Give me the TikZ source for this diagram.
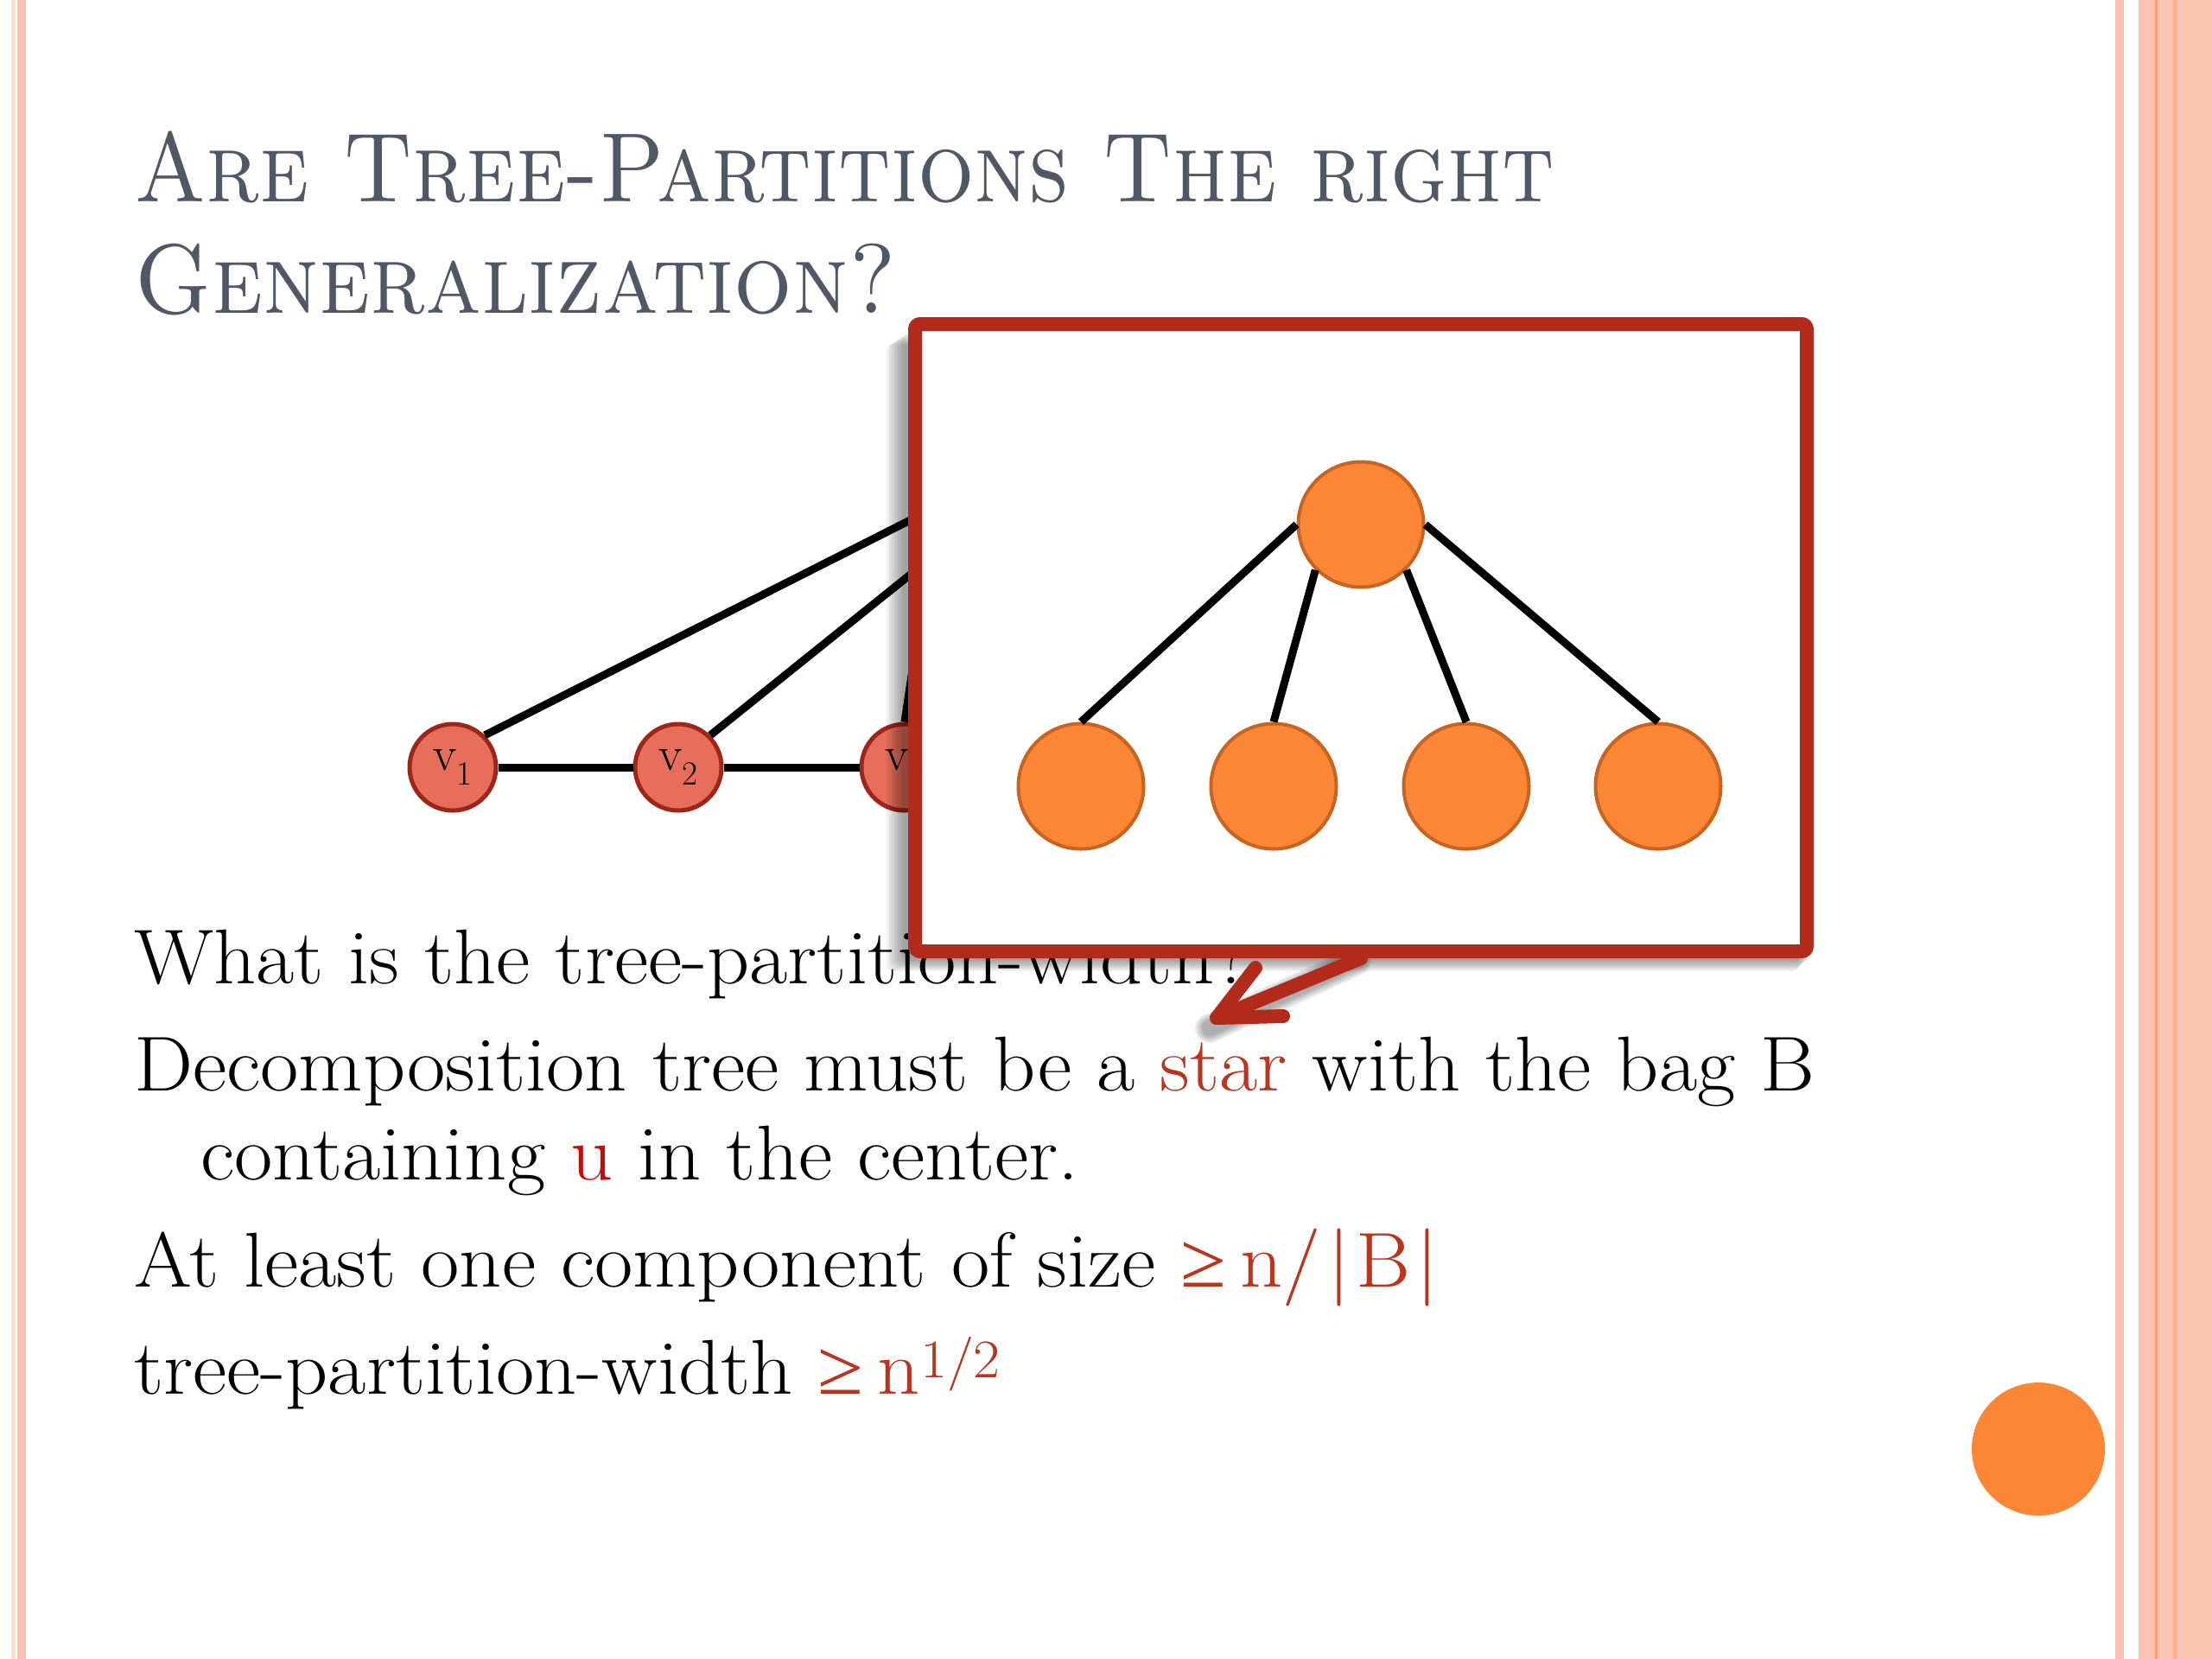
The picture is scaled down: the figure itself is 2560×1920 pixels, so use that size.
\documentclass[tikz,border=0pt]{standalone}
\usepackage{fontspec}
\newfontfamily\symfont{Liberation Serif}
\usetikzlibrary{calc}
\definecolor{titlegray}{RGB}{80,88,102}
\definecolor{accent}{RGB}{186,52,30}
\definecolor{udark}{RGB}{196,12,12}
\definecolor{boxred}{RGB}{178,42,25}
\definecolor{vfill}{RGB}{232,110,92}
\definecolor{vdraw}{RGB}{158,38,24}
\definecolor{ofill}{RGB}{250,134,54}
\definecolor{odraw}{RGB}{200,100,32}
\definecolor{bandA}{RGB}{251,196,177}
\definecolor{bandB}{RGB}{254,220,208}
\definecolor{bandC}{RGB}{249,162,113}
\newcommand{\bodyline}[1]{\scalebox{1.07}[1]{#1}}
\newcommand{\gesym}{{\symfont\fontsize{90}{100}\selectfont ≥}}
\tikzset{
  body/.style={anchor=base west, inner sep=0, font=\fontsize{90}{104}\selectfont},
  titletext/.style={anchor=base west, inner sep=0, text=titlegray, font=\fontsize{114}{130}\selectfont\scshape},
  vnode/.style={circle, fill=vfill, draw=vdraw, line width=5, minimum size=100, inner sep=0, font=\fontsize{56}{64}\selectfont},
  onode/.style={circle, fill=ofill, draw=odraw, line width=4, minimum size=145, inner sep=0},
  gedge/.style={line width=9, black},
  tedge/.style={line width=9, black},
}
\begin{document}
\begin{tikzpicture}[x=1pt,y=-1pt]
\useasboundingbox (0,0) rectangle (2560,1920);
\fill[white] (0,0) rectangle (2560,1920);
% borders
\fill[bandB] (13,0) rectangle (18,1920);
\fill[bandA] (20,0) rectangle (30,1920);
\fill[bandA] (2448,0) rectangle (2458,1920);
\fill[bandA] (2475,0) rectangle (2560,1920);
\fill[bandC] (2494,0) rectangle (2497,1920);
\fill[bandC!60!bandA] (2515,0) rectangle (2519,1920);

% title
\node[titletext] (t1) at (155,233) {\scalebox{0.902}[1]{Are Tree-Partitions The right}};
\node[titletext] (t2) at (155,362) {\scalebox{0.93}[1]{Generalization?}};

% body text
\node[body] (b1) at (155,1138) {\bodyline{What is the tree-partition-width?}};
\node[body] (b2) at (155,1262) {\bodyline{Decomposition tree must be a \textcolor{accent}{star} with the bag B}};
\node[body] (b3) at (232,1365) {\bodyline{containing \textcolor{udark}{u} in the center.}};
\node[body] (b4) at (155,1489) {\bodyline{At least one component of size \textcolor{accent}{\gesym\,n/\hspace{0.08em}|\hspace{0.06em}B\hspace{0.06em}|}}};
\node[body] (b5) at (155,1613) {\bodyline{tree-partition-width \textcolor{accent}{\gesym\,n\textsuperscript{1/2}}}};

% background graph
\node[vnode] (v1) at (524,888) {v\textsubscript{1}};
\node[vnode] (v2) at (785,888) {v\textsubscript{2}};
\node[vnode] (v3) at (1047,888) {v\textsubscript{3}};
\coordinate (u) at (1265,495);
\coordinate (w) at (1100,480);
\draw[gedge] (v1) -- (v2);
\draw[gedge] (v2) -- (v3);
\draw[gedge] (v1.north east) -- (u);
\draw[gedge] (v2.north east) -- (u);
\draw[gedge] (v3.north) -- (w);

% shadow of callout
\foreach \i in {0,...,6}{
  \fill[black, opacity=0.06, rounded corners=8] (1044-3*\i,386+2*\i) rectangle (2094-2*\i,1112+2*\i);
}
\foreach \i in {0,...,4}{
  \draw[black, opacity=0.07, line width=18+4*\i, line cap=round] (1570,1112) -- (1400,1190);
}

% callout box
\node[draw=boxred, line width=16, fill=white, rounded corners=6, minimum width=1032, minimum height=726, inner sep=0] (box) at (1575,738) {};
\coordinate (ptip) at (1408,1178);
\coordinate (pa) at (1453,1120);
\coordinate (pb) at (1485,1176);
\draw[boxred, line width=16, line cap=round, line join=round] (box.south) -- (ptip);
\draw[boxred, line width=16, line cap=round, line join=round] (pa) -- (ptip) -- (pb);

% star tree
\node[onode] (c) at (1575,607) {};
\node[onode] (k1) at (1251,910) {};
\node[onode] (k2) at (1474,910) {};
\node[onode] (k3) at (1697,910) {};
\node[onode] (k4) at (1919,910) {};
\draw[tedge] (c.west) -- (k1.north);
\draw[tedge] (c.225) -- (k2.north);
\draw[tedge] (c.-45) -- (k3.north);
\draw[tedge] (c.east) -- (k4.north);

% decorative circle
\node[circle, fill=ofill, minimum size=154, inner sep=0] (dot) at (2359,1677) {};
\end{tikzpicture}
\end{document}
